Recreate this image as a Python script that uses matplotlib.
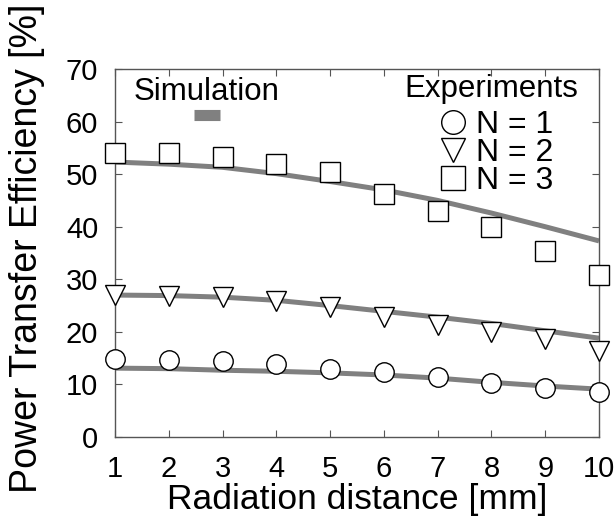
import matplotlib.pyplot as plt
from matplotlib.lines import Line2D

plt.rcParams['font.family'] = ['Liberation Sans', 'DejaVu Sans']

# Radiation distance [mm]
distance = [1, 2, 3, 4, 5, 6, 7, 8, 9, 10]

# Simulation curves (per coil count N)
sim_n1 = [13.1, 13.0, 12.7, 12.5, 12.2, 11.8, 11.2, 10.4, 9.7, 9.1]
sim_n2 = [27.0, 26.9, 26.6, 26.0, 25.0, 23.9, 22.8, 21.6, 20.2, 18.8]
sim_n3 = [52.3, 51.9, 51.3, 50.1, 48.6, 47.0, 45.0, 42.6, 40.0, 37.3]

# Experimental points
exp_n1 = [14.8, 14.6, 14.5, 13.8, 12.9, 12.4, 11.5, 10.2, 9.3, 8.6]
exp_n2 = [27.0, 26.9, 26.6, 25.9, 24.7, 22.9, 21.3, 19.9, 18.6, 16.4]
exp_n3 = [54.1, 54.0, 53.3, 52.0, 50.5, 46.3, 43.0, 40.0, 35.4, 30.9]

exp_labels = ['N = 1', 'N = 2', 'N = 3']
sim_color = '#808080'


def plot_efficiency():
    fig = plt.figure(figsize=(6.14, 5.2), dpi=100)
    ax = fig.add_axes([0.1873, 0.1596, 0.7883, 0.7077])

    for sim in (sim_n1, sim_n2, sim_n3):
        ax.plot(distance, sim, color=sim_color, lw=3.6, solid_capstyle='butt', zorder=2)

    marker_style = dict(ls='none', mfc='white', mec='black', mew=1.0, ms=14, zorder=3, clip_on=False)
    h1, = ax.plot(distance, exp_n1, marker='o', **marker_style)
    h2, = ax.plot(distance, exp_n2, marker='v', **marker_style)
    h3, = ax.plot(distance, exp_n3, marker='s', **marker_style)

    ax.set_xlim(1, 10)
    ax.set_ylim(0, 70)
    ax.set_xticks(distance)
    ax.set_yticks(range(0, 71, 10))
    ax.tick_params(direction='in', top=True, right=True, length=5, width=0.8,
                   color='#555555', labelsize=21)
    ax.tick_params(axis='x', pad=13)
    ax.tick_params(axis='y', pad=12)
    for sp in ax.spines.values():
        sp.set_color('#555555')
        sp.set_linewidth(1.0)

    ax.set_xlabel('Radiation distance [mm]', fontsize=25.5, va='center')
    ax.xaxis.set_label_coords(0.5, -0.171)
    ax.set_ylabel('Power Transfer Efficiency [%]', fontsize=27, va='center')
    ax.yaxis.set_label_coords(-0.182, 0.514)

    # Simulation legend
    sim_handle = Line2D([], [], color=sim_color, lw=8, solid_capstyle='butt')
    leg1 = ax.legend([sim_handle], [''], title='Simulation', title_fontsize=22.5,
                     loc='upper center', bbox_to_anchor=(0.19, 1.005), frameon=False,
                     handlelength=1.87, handletextpad=0, borderpad=0.2,
                     labelspacing=0.15)
    ax.add_artist(leg1)

    # Experiments legend
    ax.text(0.957, 0.945, 'Experiments', transform=ax.transAxes, ha='right',
            va='center', fontsize=22.5)
    leg2 = ax.legend([h1, h2, h3], exp_labels, fontsize=23, loc='upper right',
                     bbox_to_anchor=(0.905, 0.888), frameon=False, handlelength=0.9,
                     handletextpad=0.25, labelspacing=-0.06, borderpad=0,
                     borderaxespad=0)
    for h in leg2.legend_handles:
        h.set_markersize(17)

    fig.savefig('out.png', dpi=100)


def main():
    plot_efficiency()


if __name__ == '__main__':
    main()
